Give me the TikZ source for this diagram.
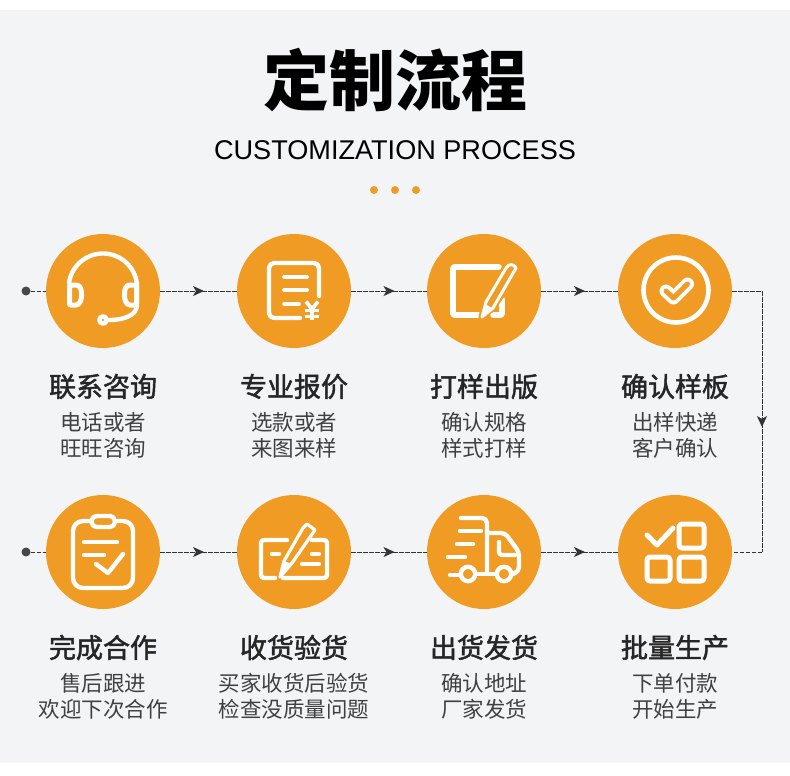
\documentclass[tikz,border=0pt]{standalone}
\usepackage{fontspec}
\setmainfont{Liberation Sans}
\newfontfamily\cjk{Noto Sans CJK SC}
\newfontfamily\cjkmid[FakeBold=1.8]{Noto Sans CJK SC}
\usetikzlibrary{decorations.markings,arrows.meta}
\definecolor{panelgray}{HTML}{F3F4F6}
\definecolor{amber}{HTML}{F09C24}
\definecolor{flowgray}{HTML}{333333}
\tikzset{
    stepdisc/.style={circle,fill=amber,minimum size=114pt,inner sep=0pt},
    startdot/.style={circle,fill=flowgray!90,minimum size=9pt,inner sep=0pt},
    flowline/.style={flowgray,line width=.9pt,dash pattern=on 4.5pt off 1.5pt},
    midtip/.style={postaction={decorate,decoration={markings,
        mark=at position .5 with {\pgftransformxshift{5.5pt}\arrow[solid,flowgray]{Stealth[length=11pt,width=10pt,inset=3pt]}}}}},
    icon/.style={white,line width=4.4pt,line cap=round,line join=round},
    headtext/.style={font=\cjkmid\fontsize{27}{30}\selectfont,text=black!85},
    subtext/.style={font=\cjk\fontsize{21.5}{26}\selectfont,text=black!75},
}
\begin{document}
\begin{tikzpicture}[x=1pt,y=-1pt]
\useasboundingbox(0,0)rectangle(790,776);
\fill[white](0,0)rectangle(790,776);
\fill[panelgray](0,10)rectangle(790,763);

\node[font=\cjk\bfseries\fontsize{66}{70}\selectfont](maintitle)at(395,80){定制流程};
\node[font=\fontsize{27.1}{32}\selectfont](subtitle)at(395,150.5){CUSTOMIZATION PROCESS};
\foreach \x in {374,395,416}
{
    \fill[amber](\x,190)circle(4pt);
}

\foreach \name/\x/\y in {a/103/291,b/294/291,c/484/291,d/675/291,e/103/552,f/294/552,g/484/552,h/675/552}
{
    \node[stepdisc](\name)at(\x,\y){};
}
\node[startdot](dota)at(26,291){};
\node[startdot](dotb)at(26,552){};
\coordinate(turna)at(762,291);
\coordinate(turnb)at(762,552);

\draw[flowline](dota)--(a);
\draw[flowline](dotb)--(e);
\foreach \p/\q in {a/b,b/c,c/d,e/f,f/g,g/h}
{
    \draw[flowline,midtip](\p)--(\q);
}
\draw[flowline](d)--(turna);
\draw[flowline,midtip](turna)--(turnb);
\draw[flowline](turnb)--(h);

\foreach \x/\y/\head/\suba/\subb in {
    103/386/联系咨询/电话或者/旺旺咨询,
    294/386/专业报价/选款或者/来图来样,
    484/386/打样出版/确认规格/样式打样,
    675/386/确认样板/出样快递/客户确认,
    103/647/完成合作/售后跟进/欢迎下次合作,
    294/647/收货验货/买家收货后验货/检查没质量问题,
    484/647/出货发货/确认地址/厂家发货,
    675/647/批量生产/下单付款/开始生产}
{
    \node[headtext]at(\x,\y+.5){\head};
    \node[subtext]at(\x,\y+36.5){\suba};
    \node[subtext]at(\x,\y+62){\subb};
}

% headset
\begin{scope}[shift={(a)}]
\draw[icon](-34,-8)arc(188:352:34.3)--(34,15)..controls(33,24)and(22,29)..(6,29);
\draw[icon,line width=5pt,rounded corners=1pt](-33.5,-6)--(-33.5,14)--(-28,14)..controls(-23,14)and(-21.5,8)..(-21.5,4)..controls(-21.5,-2)and(-23,-6)..(-28,-6)--cycle;
\draw[icon,line width=5pt,rounded corners=1pt](33.5,-6)--(33.5,14)--(28,14)..controls(23,14)and(21.5,8)..(21.5,4)..controls(21.5,-2)and(23,-6)..(28,-6)--cycle;
\draw[icon,fill=amber,line width=4.6pt](0,29)circle(3.6pt);
\end{scope}
% quote sheet
\begin{scope}[shift={(b)}]
\draw[icon,rounded corners=5pt](25,5)--(25,-28)--(-25,-28)--(-25,27)--(6,27);
\draw[icon,line width=3.8pt](-10,-14)--(13,-14);
\draw[icon,line width=3.8pt](-10,-1)--(13,-1);
\draw[icon,line width=3.8pt](-10,13)--(5,13);
\draw[icon,line width=3.6pt,line cap=butt](12,10.5)--(18,18)--(24,10.5);
\draw[icon,line width=3.6pt,line cap=butt](18,18)--(18,29);
\draw[icon,line width=3pt,line cap=butt](11,19.5)--(25,19.5);
\draw[icon,line width=3pt,line cap=butt](11,25)--(25,25);
\end{scope}
% pad and pencil
\begin{scope}[shift={(c)}]
\draw[icon,line width=5.6pt,rounded corners=1pt](-5,24)--(-31,24)--(-31,-24)--(15,-24);
\draw[icon,line width=5.6pt,rounded corners=1pt](18,8)--(18,24)--(9,24);
\draw[amber,line width=7pt,line join=round](-2,26)--(2,11)--(22,-24)--(33,-19)--(9,16)--cycle;
\draw[icon,fill=amber,line width=3pt](-2,26)--(2,11)--(22,-23)..controls(25,-28)and(30,-27)..(32,-23)--(9,17)--cycle;
\fill[white](-2,26)--(1,13)--(8,17)--cycle;
\end{scope}
% ring and tick
\begin{scope}[shift={(d)}]
\draw[icon,line width=4.6pt](1,-1)circle(32.5pt);
\draw[icon,line width=13pt](-9,0)--(-1.5,7)--(12.5,-7);
\draw[amber,line width=5pt,line cap=round,line join=round](-9,0)--(-1.5,7)--(12.5,-7);
\end{scope}
% clipboard
\begin{scope}[shift={(e)}]
\draw[icon,rounded corners=10pt](-13,-31)--(-30,-31)--(-30,36)--(30,36)--(30,-31)--(14,-31);
\draw[icon,rounded corners=5pt](-11.5,-36)rectangle(12,-25);
\draw[icon](-19,-10)--(14,-10);
\draw[icon](-19,3)--(1,3);
\draw[icon](-7,12)--(5,21)--(20,2);
\end{scope}
% card and pen
\begin{scope}[shift={(f)}]
\draw[icon,rounded corners=3pt](-7,-12)--(-33,-12)--(-33,26)--(-19,26);
\draw[icon,rounded corners=3pt](18,-12)--(33,-12)--(33,26)--(-11,26);
\draw[icon](-22,2)--(-15,2);
\draw[icon](18,2)--(25,2);
\draw[icon](8,12)--(25,12);
\draw[icon,fill=amber,line width=3.2pt](-14,25)--(-10,9)--(9,-24)--(13,-28)--(21,-22)--(-2,11)--cycle;
\fill[white](-14,25)--(-10,9)--(-2,12)--cycle;
\end{scope}
% truck
\begin{scope}[shift={(g)}]
\draw[icon,rounded corners=5pt](-23,-34)--(3,-34)--(3,21);
\draw[icon](-24,-21)--(-3,-21);
\draw[icon](-27,-8)--(-11,-8);
\draw[icon](-36,5)--(-19,5);
\draw[icon](-34,23)--(-24,23);
\draw[icon](-16,22)circle(7.2pt);
\draw[icon](20,22)circle(7.2pt);
\draw[icon](-8,22)--(11,22);
\draw[icon,rounded corners=4pt](4,-19)--(21,-19)--(35,0)--(35,19)--(29,22);
\draw[icon,rounded corners=3pt](15,-10)--(15,3)--(31,3);
\end{scope}
% tick and squares
\begin{scope}[shift={(h)}]
\draw[icon,line width=5pt](-28,-17)--(-18,-7)--(-2,-24);
\draw[icon,line width=5pt,rounded corners=3pt](4,-28)rectangle(29,-4);
\draw[icon,line width=5pt,rounded corners=3pt](-28,5)rectangle(-5,29);
\draw[icon,line width=5pt,rounded corners=3pt](4,5)rectangle(29,29);
\end{scope}
\end{tikzpicture}
\end{document}
